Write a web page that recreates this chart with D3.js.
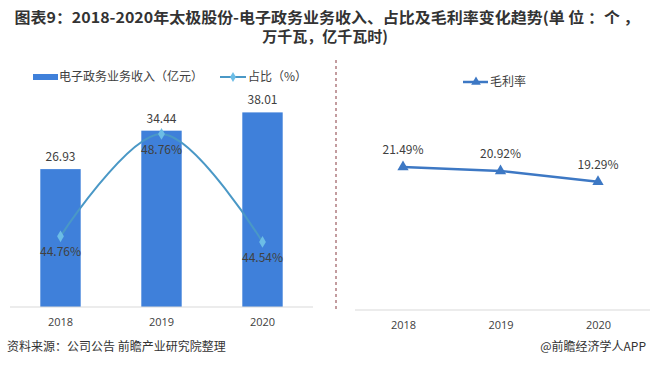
<!DOCTYPE html>
<html>
<head>
<meta charset="utf-8">
<script src="https://cdn.jsdelivr.net/npm/d3@7"></script>
<style>
  body { margin: 0; background: #fff; }
  svg { display: block; font-family: "Noto Sans CJK SC", "Open Sans", sans-serif; }
</style>
</head>
<body>
<div id="chart"></div>
<script>
const years = ['2018', '2019', '2020'];
const revenue = [26.93, 34.44, 38.01];
const share = [44.76, 48.76, 44.54];
const margin = [21.49, 20.92, 19.29];

const W = 650;
const H = 377;
const barColor = '#3f80da';
const shareColor = '#4a98c6';
const shareMarker = '#6cbde6';
const marginColor = '#3d78c4';
const textColor = '#404040';

const svg = d3
  .select('#chart')
  .append('svg')
  .attr('width', W)
  .attr('height', H);

// title
const title = svg
  .append('g')
  .attr('font-weight', 'bold')
  .attr('font-size', '15px')
  .attr('fill', '#333')
  .attr('text-anchor', 'middle');
title
  .append('text')
  .attr('x', 327)
  .attr('y', 23)
  .attr('textLength', 625)
  .attr('lengthAdjust', 'spacingAndGlyphs')
  .text('图表9：2018-2020年太极股份-电子政务业务收入、占比及毛利率变化趋势(单 位 ：个 ，');
title
  .append('text')
  .attr('x', 325)
  .attr('y', 42)
  .text('万千瓦，亿千瓦时)');

// ---- left panel ----
const x1 = d3.scaleBand().domain(years).range([10, 313]).paddingInner(0.6).paddingOuter(0.3);
const yBar = d3.scaleLinear().domain([0, 50]).range([307, 51]);
const yShare = d3.scaleLinear().domain([42, 52]).range([307, 51]);

svg
  .append('g')
  .selectAll('rect')
  .data(revenue)
  .join('rect')
  .attr('x', (d, i) => x1(years[i]))
  .attr('y', (d) => yBar(d))
  .attr('width', x1.bandwidth())
  .attr('height', (d) => yBar(0) - yBar(d))
  .attr('fill', barColor);

svg
  .append('g')
  .attr('font-size', '12px')
  .attr('fill', textColor)
  .attr('text-anchor', 'middle')
  .selectAll('text')
  .data(revenue)
  .join('text')
  .attr('x', (d, i) => x1(years[i]) + x1.bandwidth() / 2)
  .attr('y', (d) => yBar(d) - 8)
  .text((d) => d.toFixed(2));

const cx1 = (i) => x1(years[i]) + x1.bandwidth() / 2;

const shareLine = d3
  .line()
  .x((d, i) => cx1(i))
  .y((d) => yShare(d))
  .curve(d3.curveCatmullRom.alpha(0.5));

svg
  .append('path')
  .datum(share)
  .attr('d', shareLine)
  .attr('fill', 'none')
  .attr('stroke', shareColor)
  .attr('stroke-width', 2);

svg
  .append('g')
  .selectAll('path')
  .data(share)
  .join('path')
  .attr('transform', (d, i) => `translate(${cx1(i)},${yShare(d)})`)
  .attr('d', d3.symbol(d3.symbolDiamond, 40))
  .attr('fill', shareMarker);

svg
  .append('g')
  .attr('font-size', '12px')
  .attr('fill', textColor)
  .attr('text-anchor', 'middle')
  .selectAll('text')
  .data(share)
  .join('text')
  .attr('x', (d, i) => cx1(i))
  .attr('y', (d) => yShare(d) + 20)
  .text((d) => d.toFixed(2) + '%');

const axis1 = svg
  .append('g')
  .attr('transform', `translate(0,${yBar(0)})`)
  .call(d3.axisBottom(x1).tickSize(0).tickPadding(11));
axis1.select('.domain').attr('stroke', '#d9d9d9').attr('d', 'M10,0H313');
axis1
  .selectAll('text')
  .attr('font-size', '11px')
  .attr('fill', textColor)
  .attr('font-family', '"Open Sans", sans-serif');

// left legend
const lg1 = svg.append('g').attr('font-size', '12px').attr('fill', textColor);
lg1.append('rect').attr('x', 33).attr('y', 74).attr('width', 25).attr('height', 6).attr('fill', barColor);
lg1.append('text').attr('x', 59).attr('y', 81).text('电子政务业务收入（亿元）');
lg1
  .append('line')
  .attr('x1', 220)
  .attr('x2', 246)
  .attr('y1', 77)
  .attr('y2', 77)
  .attr('stroke', shareColor)
  .attr('stroke-width', 2);
lg1
  .append('path')
  .attr('transform', 'translate(233,77)')
  .attr('d', d3.symbol(d3.symbolDiamond, 30))
  .attr('fill', shareMarker);
lg1.append('text').attr('x', 248).attr('y', 81).text('占比（%）');

// separator
svg
  .append('line')
  .attr('x1', 336)
  .attr('x2', 336)
  .attr('y1', 60)
  .attr('y2', 310)
  .attr('stroke', '#b07c80')
  .attr('stroke-width', 1.5)
  .attr('stroke-dasharray', '3,3');

// ---- right panel ----
const x2 = d3.scalePoint().domain(years).range([403, 598]);
const yMargin = d3.scaleLinear().domain([0, 40]).range([310, 44]);
const cx2 = (i) => x2(years[i]);

svg
  .append('path')
  .datum(margin)
  .attr(
    'd',
    d3
      .line()
      .x((d, i) => cx2(i))
      .y((d) => yMargin(d))
  )
  .attr('fill', 'none')
  .attr('stroke', marginColor)
  .attr('stroke-width', 2.5);

svg
  .append('g')
  .selectAll('path')
  .data(margin)
  .join('path')
  .attr('transform', (d, i) => `translate(${cx2(i)},${yMargin(d)})`)
  .attr('d', d3.symbol(d3.symbolTriangle, 55))
  .attr('fill', marginColor);

svg
  .append('g')
  .attr('font-size', '12px')
  .attr('fill', textColor)
  .attr('text-anchor', 'middle')
  .selectAll('text')
  .data(margin)
  .join('text')
  .attr('x', (d, i) => cx2(i))
  .attr('y', (d) => yMargin(d) - 13)
  .text((d) => d.toFixed(2) + '%');

const axis2 = svg
  .append('g')
  .attr('transform', `translate(0,${yMargin(0)})`)
  .call(d3.axisBottom(x2).tickSize(0).tickPadding(11));
axis2.select('.domain').attr('stroke', '#d9d9d9').attr('d', 'M355,0H650');
axis2
  .selectAll('text')
  .attr('font-size', '11px')
  .attr('fill', textColor)
  .attr('font-family', '"Open Sans", sans-serif');

// right legend
const lg2 = svg.append('g').attr('font-size', '12px').attr('fill', textColor);
lg2
  .append('line')
  .attr('x1', 463)
  .attr('x2', 488)
  .attr('y1', 82)
  .attr('y2', 82)
  .attr('stroke', marginColor)
  .attr('stroke-width', 2.5);
lg2
  .append('path')
  .attr('transform', 'translate(476,82)')
  .attr('d', d3.symbol(d3.symbolTriangle, 40))
  .attr('fill', marginColor);
lg2.append('text').attr('x', 490).attr('y', 86).text('毛利率');

// footer
const ft = svg.append('g').attr('font-size', '12px').attr('fill', '#333');
ft.append('text').attr('x', 7).attr('y', 351).text('资料来源：公司公告 前瞻产业研究院整理');
ft.append('text').attr('x', 646).attr('y', 351).attr('text-anchor', 'end').text('@前瞻经济学人APP');
</script>
</body>
</html>
